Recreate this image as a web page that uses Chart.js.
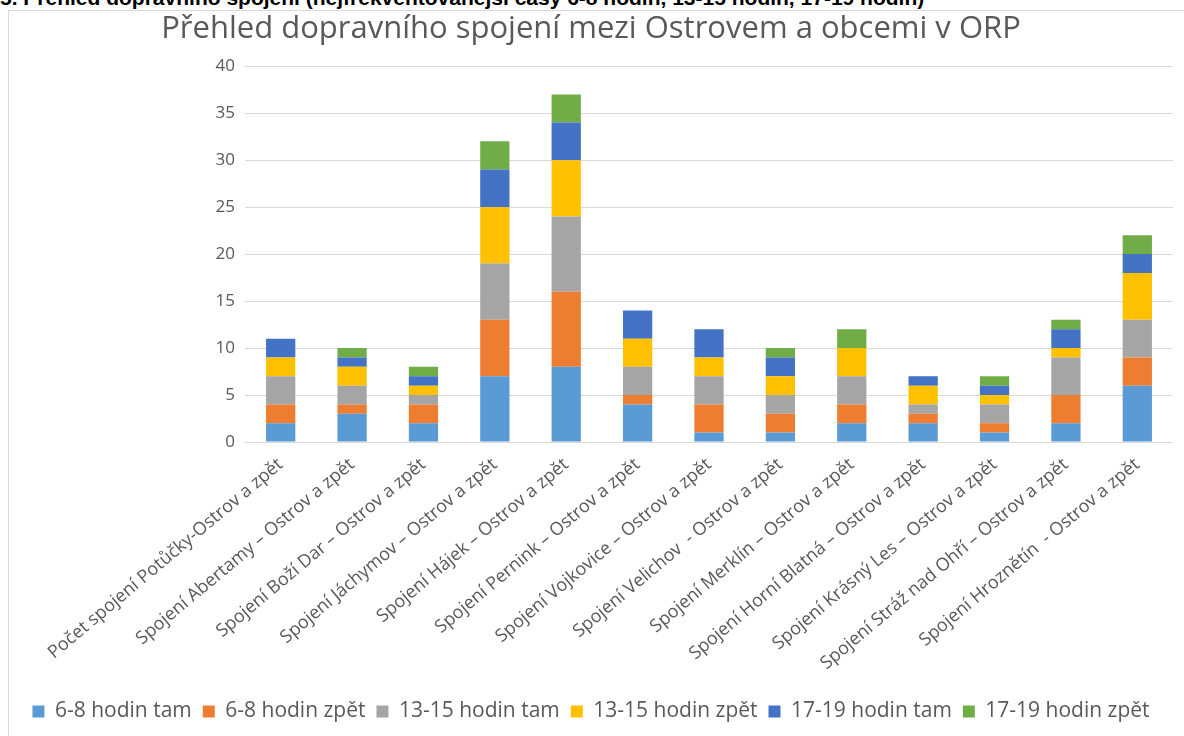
<!DOCTYPE html>
<html>
<head>
<meta charset="utf-8">
<script src="https://cdn.jsdelivr.net/npm/chart.js@4"></script>
<style>
  body { margin: 0; background: #fff; overflow: hidden; width: 1184px; height: 736px; position: relative; }
  #head { position: absolute; left: 0; top: -14px; font: bold 21px "Liberation Sans", Arial, sans-serif; color: #000; white-space: nowrap; }
  #box { position: absolute; left: 8px; top: 10px; width: 1190px; height: 740px; border: 1px solid #d9d9d9; }
  #wrap { position: absolute; left: 9px; top: 11px; width: 1182px; height: 725px; }
</style>
</head>
<body>
<div id="head">5. Přehled dopravního spojení (nejfrekventovanější časy 6-8 hodin, 13-15 hodin, 17-19 hodin)</div>
<div id="box"></div>
<div id="wrap"><canvas id="myChart" width="1182" height="725"></canvas></div>
<script>
const labels = [
  'Počet spojení Potůčky-Ostrov a zpět',
  'Spojení Abertamy – Ostrov a zpět',
  'Spojení Boží Dar – Ostrov a zpět',
  'Spojení Jáchymov – Ostrov a zpět',
  'Spojení Hájek – Ostrov a zpět',
  'Spojení Pernink – Ostrov a zpět',
  'Spojení Vojkovice – Ostrov a zpět',
  'Spojení Velichov  - Ostrov a zpět',
  'Spojení Merklín – Ostrov a zpět',
  'Spojení Horní Blatná – Ostrov a zpět',
  'Spojení Krásný Les – Ostrov a zpět',
  'Spojení Stráž nad Ohří – Ostrov a zpět',
  'Spojení Hroznětín  - Ostrov a zpět'
];

const ranoTam   = [2, 3, 2, 7, 8, 4, 1, 1, 2, 2, 1, 2, 6];
const ranoZpet  = [2, 1, 2, 6, 8, 1, 3, 2, 2, 1, 1, 3, 3];
const poledneTam  = [3, 2, 1, 6, 8, 3, 3, 2, 3, 1, 2, 4, 4];
const poledneZpet = [2, 2, 1, 6, 6, 3, 2, 2, 3, 2, 1, 1, 5];
const vecerTam  = [2, 1, 1, 4, 4, 3, 3, 2, 0, 1, 1, 2, 2];
const vecerZpet = [0, 1, 1, 3, 3, 0, 0, 1, 2, 0, 1, 1, 2];

const yTicks = [0, 5, 10, 15, 20, 25, 30, 35, 40];

const grey = '#595959';

function ds(label, values, color) {
  return {
    label: label,
    data: values,
    backgroundColor: color,
    borderWidth: 0,
    barPercentage: 0.41,
    categoryPercentage: 1.0
  };
}

const data = {
  labels: labels,
  datasets: [
    ds('6-8 hodin tam', ranoTam, '#5B9BD5'),
    ds('6-8 hodin zpět', ranoZpet, '#ED7D31'),
    ds('13-15 hodin tam', poledneTam, '#A5A5A5'),
    ds('13-15 hodin zpět', poledneZpet, '#FFC000'),
    ds('17-19 hodin tam', vecerTam, '#4472C4'),
    ds('17-19 hodin zpět', vecerZpet, '#70AD47')
  ]
};

const config = {
  type: 'bar',
  data: data,
  options: {
    responsive: false,
    animation: false,
    layout: { padding: { left: 0, right: 18, top: 0, bottom: 4 } },
    plugins: {
      title: {
        display: true,
        text: 'Přehled dopravního spojení mezi Ostrovem a obcemi v ORP',
        color: grey,
        font: { family: 'Open Sans', size: 31, weight: 'normal' },
        padding: { top: 0, bottom: 18 }
      },
      legend: {
        position: 'bottom',
        labels: {
          color: grey,
          font: { family: 'Open Sans', size: 21 },
          boxWidth: 12,
          boxHeight: 12,
          padding: 11
        }
      },
      tooltip: { enabled: false }
    },
    scales: {
      x: {
        stacked: true,
        grid: { display: false },
        border: { display: false },
        afterFit: function(axis) { axis.height = 248; },
        ticks: {
          color: grey,
          font: { family: 'Open Sans', size: 18 },
          minRotation: 40,
          maxRotation: 40,
          autoSkip: false,
          padding: 4
        }
      },
      y: {
        stacked: true,
        min: 0,
        max: 40,
        afterBuildTicks: function(axis) {
          axis.ticks = yTicks.map(v => ({ value: v }));
        },
        afterFit: function(axis) { axis.width = 236; },
        grid: { color: '#d9d9d9', lineWidth: 1, drawTicks: false },
        border: { display: false },
        ticks: {
          color: grey,
          font: { family: 'Open Sans', size: 17 },
          padding: 10
        }
      }
    }
  }
};

const myChart = new Chart(document.getElementById('myChart'), config);
</script>
</body>
</html>
